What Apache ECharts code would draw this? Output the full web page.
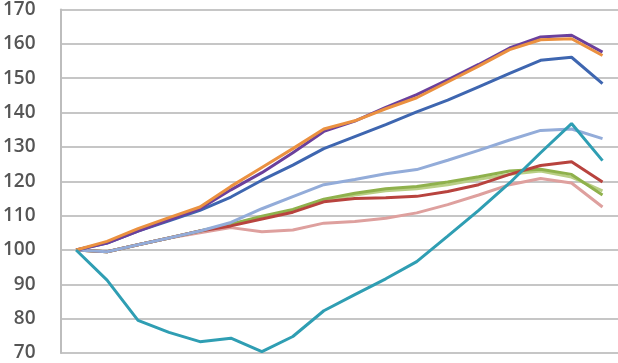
<!DOCTYPE html>
<html>
<head>
<meta charset="utf-8">
<script src="https://cdn.jsdelivr.net/npm/echarts@6/dist/echarts.min.js"></script>
<style>html,body{margin:0;padding:0;background:#fff}#c{width:618px;height:363px}</style>
</head>
<body>
<div id="c"></div>
<script>
var categories = ['1','2','3','4','5','6','7','8','9','10','11','12','13','14','15','16','17','18'];
var yTicks = [70, 170, 10];
var pink      = [100, 99.5, 101.5, 103.5, 105, 106.5, 105.3, 105.8, 107.8, 108.3, 109.2, 110.8, 113.2, 116, 119, 120.8, 119.5, 112.5];
var lightGreen= [100, 99.5, 101.5, 103.5, 105.5, 107.5, 109.5, 111.5, 114.2, 116, 117.2, 117.8, 119, 120.6, 122, 123, 121.2, 117.2];
var green     = [100, 99.5, 101.5, 103.5, 105.5, 107.5, 109.8, 111.8, 114.8, 116.5, 117.8, 118.5, 119.8, 121.3, 123, 123.5, 122, 116];
var red       = [100, 99.5, 101.5, 103.5, 105.5, 107, 109, 111, 114, 115, 115.2, 115.6, 117, 119, 122, 124.6, 125.7, 119.8];
var lightBlue = [100, 99.5, 101.5, 103.5, 105.5, 108, 112, 115.5, 119, 120.5, 122.2, 123.4, 126.1, 129, 132, 134.8, 135.2, 132.4];
var blue      = [100, 102, 105.5, 108.5, 111.5, 115.4, 120.3, 124.7, 129.5, 133, 136.5, 140.2, 143.6, 147.5, 151.4, 155.2, 156.1, 148.4];
var purple    = [100, 102, 105.5, 108.8, 112, 117.5, 122.5, 128.3, 134.5, 137.5, 141.5, 145.2, 149.5, 154, 158.8, 162, 162.5, 157.6];
var orange    = [100, 102.5, 106.2, 109.4, 112.5, 118.5, 124, 129.5, 135.2, 137.6, 141.1, 144.3, 148.9, 153.5, 158.3, 161.2, 161.5, 156.6];
var teal      = [100, 91.2, 79.5, 76, 73.3, 74.3, 70.4, 74.8, 82.3, 87, 91.6, 96.6, 104, 111.5, 119.5, 128.3, 136.8, 126];

var seriesDefs = [
  ['Pink', pink, '#dea09e'],
  ['Light green', lightGreen, '#b9cf85'],
  ['Green', green, '#8fb14c'],
  ['Red', red, '#b8433e'],
  ['Light blue', lightBlue, '#93acd9'],
  ['Blue', blue, '#3e66b0'],
  ['Purple', purple, '#6b409c'],
  ['Orange', orange, '#eb9140'],
  ['Teal', teal, '#2f9eb3']
];

var chart = echarts.init(document.getElementById('c'), null, {renderer: 'canvas'});
chart.setOption({
  animation: false,
  backgroundColor: '#ffffff',
  grid: {left: 60, right: 0, top: 9, bottom: 10, containLabel: false},
  xAxis: {
    type: 'category',
    data: categories,
    boundaryGap: true,
    axisLine: {show: false},
    axisTick: {show: false},
    axisLabel: {show: false},
    splitLine: {show: false}
  },
  yAxis: {
    type: 'value',
    min: yTicks[0],
    max: yTicks[1],
    interval: yTicks[2],
    axisLine: {show: true, lineStyle: {color: '#bdbdbd', width: 2}},
    axisTick: {show: false},
    axisLabel: {
      color: '#555555',
      fontSize: 19,
      fontWeight: 600,
      fontFamily: 'Open Sans, Liberation Sans, sans-serif',
      margin: 25
    },
    splitLine: {show: true, lineStyle: {color: '#c6c6c6', width: 2}}
  },
  series: seriesDefs.map(function (d) {
    return {
      name: d[0],
      type: 'line',
      data: d[1],
      symbol: 'none',
      smooth: false,
      lineStyle: {color: d[2], width: 3},
      itemStyle: {color: d[2]}
    };
  })
});
</script>
</body>
</html>
